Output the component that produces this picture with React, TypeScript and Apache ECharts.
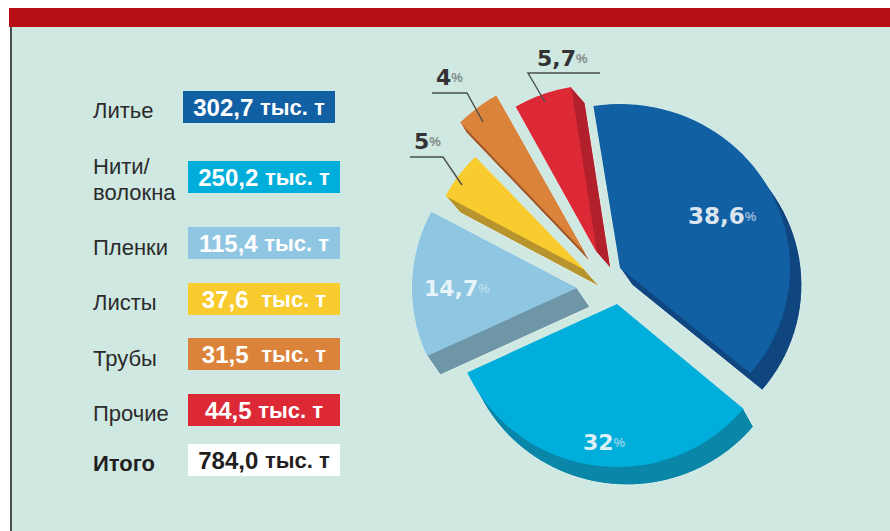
import React, { useEffect, useRef } from "react";
import * as echarts from "echarts";

// ---- data ----
const categories = ["Литье", "Нити/\nволокна", "Пленки", "Листы", "Трубы", "Прочие"];
const totalLabel = "Итого";
const tonnageLabels = ["302,7 тыс. т", "250,2 тыс. т", "115,4 тыс. т", "37,6  тыс. т", "31,5  тыс. т", "44,5 тыс. т"];
const totalTonnage = "784,0 тыс. т";
const percents = [38.6, 32, 14.7, 5, 4, 5.7];

// ---- styles ----
const topColors = ["#1160a4", "#00aedb", "#8fc6e2", "#f8cb2e", "#db833a", "#dc2935"];
const wallColors = ["#0f4680", "#0a86a8", "#6e96a6", "#b8942f", "#a05a2c", "#b2202c"];
const START_ANGLE = 351; // degrees clockwise from 12 o'clock

// exploded-slice geometry: apex, radii, extrusion vector
const sliceGeom = [
  { cx: 620, cy: 268, rx: 170, ry: 164, dx: 12, dy: 17 },
  { cx: 617, cy: 304, rx: 165, ry: 163, dx: 10, dy: 18 },
  { cx: 577, cy: 288, rx: 165, ry: 162, dx: 13, dy: 19 },
  { cx: 585, cy: 270, rx: 158, ry: 157, dx: 15, dy: 17 },
  { cx: 585, cy: 253, rx: 180, ry: 181, dx: 6, dy: 10 },
  { cx: 597, cy: 253, rx: 165, ry: 168, dx: 14, dy: 16 },
];
const labelPos = [
  { x: 688, y: 216, size: 23, color: "#dbe5f0", pct: "#9db6d6" },
  { x: 583, y: 442, size: 22, color: "#dcf0f6", pct: "#8fd3ea" },
  { x: 424, y: 288, size: 22, color: "#e6f3f9", pct: "#b9dcee" },
  { x: 414, y: 141, size: 22, color: "#333333", pct: "#7f8a88" },
  { x: 436, y: 77, size: 22, color: "#333333", pct: "#7f8a88" },
  { x: 537, y: 58, size: 22, color: "#333333", pct: "#7f8a88" },
];
const leaders: (number[][] | null)[] = [
  null,
  null,
  null,
  [[410, 157], [443, 157], [462, 185]],
  [[432, 93], [467, 93], [483, 122]],
  [[600, 73], [528, 73], [545, 102]],
];
const legendRows = [
  { boxX: 183, boxY: 91, textY: 110 },
  { boxX: 188, boxY: 161, textY: 179 },
  { boxX: 188, boxY: 227, textY: 247 },
  { boxX: 188, boxY: 283, textY: 302 },
  { boxX: 188, boxY: 338, textY: 358 },
  { boxX: 188, boxY: 394, textY: 413 },
];
const FONT = '"Liberation Sans", Arial, sans-serif';
const WIDE_FONT = '"DejaVu Sans", sans-serif';

function hull(pts: number[][]) {
  const p = pts.slice().sort((a, b) => a[0] - b[0] || a[1] - b[1]);
  const cross = (o: number[], a: number[], b: number[]) =>
    (a[0] - o[0]) * (b[1] - o[1]) - (a[1] - o[1]) * (b[0] - o[0]);
  const lo: number[][] = [];
  for (const q of p) {
    while (lo.length > 1 && cross(lo[lo.length - 2], lo[lo.length - 1], q) <= 0) lo.pop();
    lo.push(q);
  }
  const up: number[][] = [];
  for (const q of p.slice().reverse()) {
    while (up.length > 1 && cross(up[up.length - 2], up[up.length - 1], q) <= 0) up.pop();
    up.push(q);
  }
  return lo.slice(0, -1).concat(up.slice(0, -1));
}

const sum = percents.reduce((a, b) => a + b, 0);

function renderSlice(params: any, api: any) {
  const i = params.dataIndex;
  const value = api.value(0);
  const before = percents.slice(0, i).reduce((a, b) => a + b, 0);
  const a0 = START_ANGLE + (before / sum) * 360;
  const a1 = a0 + (value / sum) * 360;
  const g = sliceGeom[i];
  const top: number[][] = [[g.cx, g.cy]];
  const steps = 48;
  for (let k = 0; k <= steps; k++) {
    const t = ((a0 + ((a1 - a0) * k) / steps) * Math.PI) / 180;
    top.push([g.cx + g.rx * Math.sin(t), g.cy - g.ry * Math.cos(t)]);
  }
  const shifted = top.map((p) => [p[0] + g.dx, p[1] + g.dy]);
  const wall = hull(top.concat(shifted));
  const lp = labelPos[i];
  const children: any[] = [
    {
      type: "polygon",
      shape: { points: wall },
      style: { fill: wallColors[i], stroke: "#e2f3ee", lineWidth: 1 },
    },
    {
      type: "polygon",
      shape: { points: top },
      style: { fill: topColors[i] },
    },
  ];
  const leader = leaders[i];
  if (leader) {
    children.push({
      type: "polyline",
      shape: { points: leader },
      style: { fill: "none", stroke: "#4a4f4e", lineWidth: 1.4 },
    });
  }
  children.push({
    type: "text",
    x: lp.x,
    y: lp.y,
    style: {
      text: `{v|${String(value).replace(".", ",")}}{p|%}`,
      verticalAlign: "middle",
      align: "left",
      rich: {
        v: { fontFamily: WIDE_FONT, fontWeight: "bold", fontSize: lp.size, fill: lp.color, color: lp.color },
        p: { fontFamily: FONT, fontWeight: "bold", fontSize: 13, fill: lp.pct, color: lp.pct },
      },
    },
  });
  return { type: "group", children };
}

// digits in a larger size than the unit, as in the reference
function richTonnage(label: string, fill: string, x: number, y: number) {
  const at = label.indexOf(" ");
  const num = label.slice(0, at);
  const unit = label.slice(at + 1);
  return {
    type: "text",
    x,
    y,
    style: {
      text: `{v|${num} }{u|${unit}}`,
      align: "center",
      verticalAlign: "middle",
      rich: {
        v: { fontFamily: FONT, fontWeight: "bold", fontSize: 24, fill, color: fill },
        u: { fontFamily: FONT, fontWeight: "bold", fontSize: 22, fill, color: fill },
      },
    },
  };
}

export default function App() {
  const ref = useRef<HTMLDivElement>(null);
  useEffect(() => {
    document.body.style.margin = "0";
    const chart = echarts.init(ref.current!, undefined, { renderer: "svg" });
    const legend: any[] = [];
    categories.forEach((name, i) => {
      const r = legendRows[i];
      legend.push({
        type: "text", x: 93, y: r.textY,
        style: { text: name, font: `22px ${FONT}`, fill: "#2b2b2b", verticalAlign: "middle", lineHeight: 26 },
      });
      legend.push({
        type: "rect", shape: { x: r.boxX, y: r.boxY, width: 152, height: 32 },
        style: { fill: topColors[i] },
      });
      legend.push(richTonnage(tonnageLabels[i], "#ffffff", r.boxX + 76, r.boxY + 16));
    });
    legend.push({
      type: "text", x: 93, y: 463,
      style: { text: totalLabel, font: `bold 22px ${FONT}`, fill: "#231f20", verticalAlign: "middle" },
    });
    legend.push({ type: "rect", shape: { x: 188, y: 444, width: 152, height: 32 }, style: { fill: "#ffffff" } });
    legend.push(richTonnage(totalTonnage, "#231f20", 264, 460));
    chart.setOption({
      animation: false,
      backgroundColor: "#ffffff",
      graphic: [
        { type: "rect", z: -10, shape: { x: 10, y: 27, width: 880, height: 504 }, style: { fill: "#cfe8e1" } },
        { type: "rect", z: -9, shape: { x: 9, y: 8, width: 881, height: 19 }, style: { fill: "#b90f16" } },
        { type: "rect", z: -9, shape: { x: 10, y: 27, width: 2, height: 504 }, style: { fill: "#4a4f4e" } },
        ...legend.map((e) => ({ ...e, z: 5 })),
      ],
      series: [
        {
          type: "custom",
          coordinateSystem: "none",
          silent: true,
          z: 3,
          renderItem: renderSlice,
          data: percents.map((v, i) => ({ name: categories[i], value: [v] })),
        },
      ],
    });
    return () => chart.dispose();
  }, []);
  return <div ref={ref} style={{ width: 890, height: 531 }} />;
}
